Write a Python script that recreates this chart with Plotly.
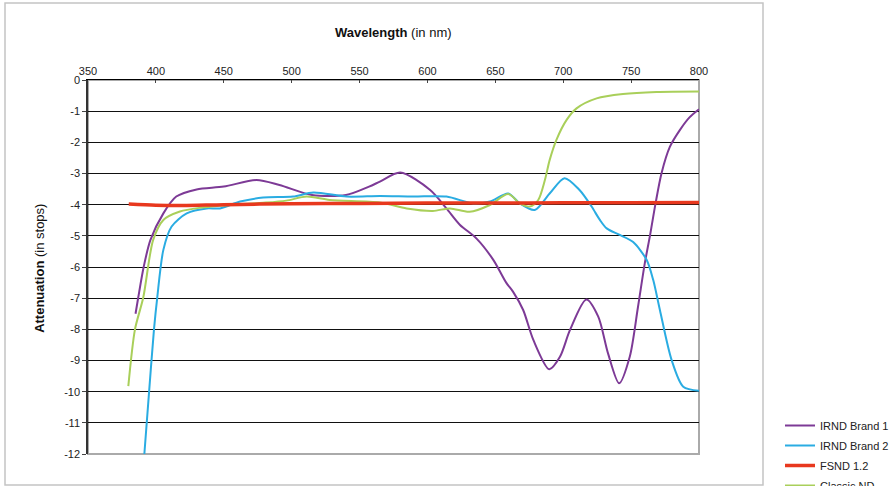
import plotly.graph_objects as go

# IRND Brand 1
b1_x = [385, 387, 391, 396, 405.5, 415, 430, 450, 474, 491, 515, 540, 557, 565, 580,
        602, 614, 624, 636, 648.5, 658, 663, 670.5, 678, 689.7, 697.6, 705, 717, 725.8,
        733, 741.2, 749, 755, 760, 764, 768, 772.4, 778.6, 786, 793, 800]
b1_y = [-7.5, -6.98, -6.0, -5.13, -4.28, -3.74, -3.51, -3.42, -3.21, -3.37, -3.69, -3.69,
        -3.42, -3.26, -2.97, -3.53, -4.12, -4.65, -5.08, -5.77, -6.5, -6.79, -7.38, -8.34,
        -9.28, -8.88, -8.02, -7.04, -7.59, -8.77, -9.73, -8.88, -7.3, -5.9, -4.97, -3.96,
        -2.99, -2.14, -1.6, -1.2, -0.94]

# IRND Brand 2
b2_x = [391.5, 395, 398.6, 401, 405.5, 411.6, 422.7, 437.4, 447.2, 462, 479, 501, 516,
        540.5, 565, 589.5, 614, 633.7, 646, 659.5, 668, 679, 690, 701, 712, 720.9, 727,
        732, 741.7, 751.5, 761.4, 766.3, 771.2, 779.8, 788.4, 800]
b2_y = [-12, -10.0, -8.0, -6.98, -5.45, -4.7, -4.28, -4.12, -4.12, -3.9, -3.77, -3.74,
        -3.61, -3.74, -3.72, -3.74, -3.74, -3.96, -3.9, -3.64, -3.96, -4.17, -3.64, -3.15,
        -3.53, -4.06, -4.49, -4.76, -4.97, -5.2, -5.77, -6.42, -7.38, -8.98, -9.84, -9.97]

# FSND 1.2
fs_x = [380, 400, 420, 450, 500, 550, 600, 650, 700, 750, 800]
fs_y = [-3.98, -4.02, -4.03, -4.0, -3.97, -3.96, -3.95, -3.95, -3.94, -3.94, -3.93]

# Classic ND
nd_x = [379.7, 384.6, 390.7, 398, 405.5, 417.7, 432.5, 454.6, 479, 496, 511, 528, 565,
        584.7, 604, 616.6, 631, 646, 659.5, 668, 675.5, 681.6, 686.5, 690, 695, 702.5,
        709.8, 724.6, 744, 768.7, 800]
nd_y = [-9.82, -8.0, -6.98, -5.13, -4.49, -4.22, -4.1, -4.01, -3.94, -3.87, -3.74, -3.85,
        -3.93, -4.12, -4.2, -4.12, -4.23, -4.01, -3.66, -3.96, -4.06, -3.85, -3.21, -2.57,
        -1.92, -1.28, -0.91, -0.59, -0.45, -0.385, -0.37]

x_ticks = [350, 400, 450, 500, 550, 600, 650, 700, 750, 800]
y_ticks = list(range(0, -13, -1))
y_labels = [str(v) for v in y_ticks]

FONT = "Liberation Sans, Arial, sans-serif"

fig = go.Figure()
series = [
    ("IRND Brand 1", b1_x, b1_y, "#7d3a96", 2, 1),
    ("IRND Brand 2", b2_x, b2_y, "#2aace2", 2, 2),
    ("Classic ND", nd_x, nd_y, "#a9cf5a", 2, 4),
    ("FSND 1.2", fs_x, fs_y, "#e8381e", 3.5, 3),
]
for name, xs, ys, color, width, rank in series:
    fig.add_trace(go.Scatter(
        x=xs, y=ys, name=name, mode="lines", legendgroup=name,
        line=dict(color=color, width=width, shape="spline", smoothing=0.8),
        legendrank=rank,
    ))

fig.update_layout(
    width=891, height=486,
    paper_bgcolor="white", plot_bgcolor="white",
    margin=dict(l=88, r=192, t=80, b=32, autoexpand=False),
    font=dict(family=FONT, size=11, color="#222"),
    showlegend=True,
    legend=dict(
        xref="container", yref="container",
        x=780 / 891, y=(486 - 411) / 486, xanchor="left", yanchor="top",
        font=dict(size=11, color="#222"), bgcolor="rgba(0,0,0,0)",
        tracegroupgap=1,
    ),
    xaxis=dict(
        range=[350, 800], tickvals=x_ticks, side="top", automargin=False,
        showgrid=False, zeroline=False,
        showline=True, linecolor="#000", linewidth=1.2,
        ticks="inside", ticklen=3, tickcolor="#444",
    ),
    yaxis=dict(
        range=[-12, 0], tickvals=y_ticks, ticktext=y_labels, automargin=False,
        showgrid=True, gridcolor="#111", gridwidth=1, zeroline=False,
        showline=True, linecolor="#333", linewidth=1.5,
        ticks="outside", ticklen=4, tickcolor="#444",
    ),
    shapes=[
        dict(type="rect", xref="paper", yref="paper",
             x0=-83 / 611, x1=675 / 611, y0=-31 / 374, y1=451 / 374,
             line=dict(color="#c4c4c4", width=1.5), layer="below"),
        dict(type="rect", xref="x domain", yref="y domain",
             x0=0, x1=1, y0=0, y1=1,
             line=dict(color="#aaaaaa", width=2), layer="below"),
    ],
    annotations=[
        dict(text="<b>Wavelength</b> (in nm)", xref="paper", yref="paper",
             x=0.5, y=421 / 374, xanchor="center", yanchor="middle",
             showarrow=False, font=dict(size=13, color="#111")),
        dict(text="<b>Attenuation</b> (in stops)", xref="paper", yref="paper",
             x=-48 / 611, y=0.495, xanchor="center", yanchor="middle",
             textangle=-90, showarrow=False, font=dict(size=13, color="#111")),
    ],
)

# the page's default body margin would shift the fixed-size figure by 8px
fig.write_html(
    "out.html",
    config={"displayModeBar": False},
    post_script="document.body.style.margin='0';",
)
